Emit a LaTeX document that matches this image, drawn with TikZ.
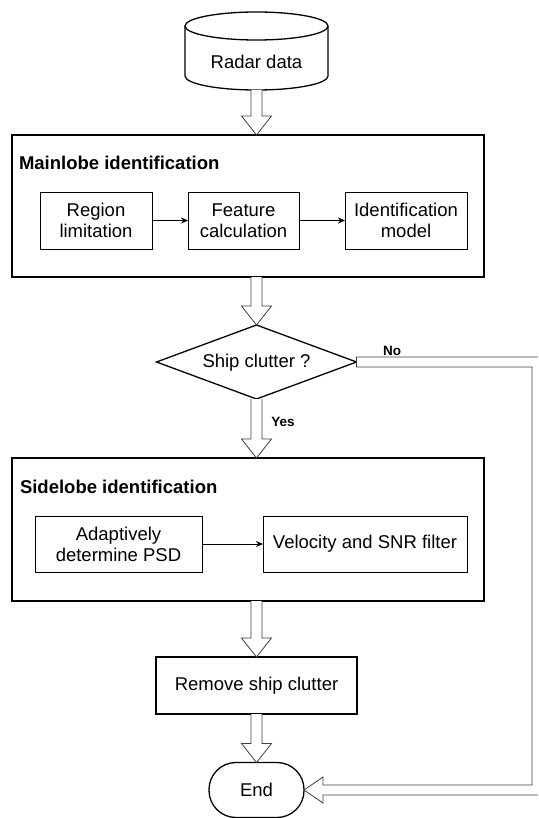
\documentclass[tikz,border=0pt]{standalone}
\usepackage{fontspec}
\setmainfont{Liberation Sans}
\usetikzlibrary{shapes.geometric,arrows.meta,calc}
\tikzset{
  every node/.style={font=\fontsize{18.5}{21}\selectfont, inner sep=0pt, outer sep=0pt, align=center},
  bigbox/.style={draw, line width=1.6pt, minimum width=472pt, minimum height=142pt},
  smallbox/.style={draw, line width=0.8pt, minimum height=57pt},
  title/.style={anchor=west, font=\fontsize{18.5}{21}\selectfont\bfseries},
  lbl/.style={font=\fontsize{13.5}{16}\selectfont\bfseries},
  thin/.style={line width=0.8pt, -{Stealth[length=7pt,width=6pt]}},
  harrow/.style={draw=black!75, line width=0.8pt, fill=white, line join=miter},
  cylline/.style={line width=1.3pt},
}
\newcommand\hollowdown[2]{%
  \path[harrow] let \p1=(#1), \p2=(#2) in
    (\x2-5.5pt,\y1) -- (\x2-5.5pt,\y2+19pt) -- (\x2-15pt,\y2+19pt) -- (\x2,\y2)
    -- (\x2+15pt,\y2+19pt) -- (\x2+5.5pt,\y2+19pt) -- (\x2+5.5pt,\y1);}
\begin{document}
\begin{tikzpicture}[x=1pt,y=-1pt]
\useasboundingbox (0,0) rectangle (538,818);
\clip (0,0) rectangle (538,818);
\fill[white] (0,0) rectangle (538,818);

% Radar data cylinder
\node (radar) at (256.5,51) [minimum width=143pt, minimum height=78pt] {};
\draw[cylline] (185,26) -- (185,76) arc[start angle=180, end angle=0, x radius=71.5, y radius=14] -- (328,26);
\draw[cylline] (256.5,26) ellipse [x radius=71.5, y radius=14];
\node (radartext) at (256.5,62) {Radar data};

% Mainlobe identification
\node[bigbox] (main) at (248,206) {};
\node[title] (maint) at (19,163) {Mainlobe identification};
\node[smallbox, minimum width=112pt] (region) at (96,220.5) {Region\\limitation};
\node[smallbox, minimum width=111pt] (feature) at (243.5,220.5) {Feature\\calculation};
\node[smallbox, minimum width=122pt] (ident) at (406,220.5) {Identification\\model};
\draw[thin] (region) -- (feature);
\draw[thin] (feature) -- (ident);

% Decision
\node[draw, diamond, aspect=2.7, line width=1.3pt, minimum width=200pt, minimum height=74pt] (dia) at (256.5,362) {};
\node (diat) at (256.5,363) {Ship clutter ?};
\node[lbl] (no) at (392,351) {No};
\node[lbl] (yes) at (283,422) {Yes};

% Sidelobe identification
\node[bigbox, minimum height=143pt] (side) at (248,529.5) {};
\node[title] (sidet) at (20,487) {Sidelobe identification};
\node[smallbox, minimum width=167pt, minimum height=56pt] (adapt) at (118.5,544) {Adaptively\\determine PSD};
\node[smallbox, minimum width=204pt, minimum height=56pt] (velo) at (365,544) {Velocity and SNR filter};
\draw[thin] (adapt) -- (velo);

% Remove ship clutter
\node[draw, line width=1.3pt, minimum width=201pt, minimum height=57pt] (remove) at (256.5,685.5) {Remove ship clutter};

% End
\node[draw, line width=1.3pt, rounded corners=27pt, minimum width=95pt, minimum height=55pt] (end) at (256.5,790) {End};

% hollow arrows
\hollowdown{radar.south}{main.north -| dia.north}
\hollowdown{main.south -| dia.north}{dia.north}
\hollowdown{dia.south}{side.north -| dia.south}
\hollowdown{side.south -| remove.north}{remove.north}
\hollowdown{remove.south}{end.north}

% No branch
\path[harrow] let \p1=(dia.east), \p2=(end.east) in
  (\x1,\y1+5pt) -- (543pt,\y1+5pt) -- (543pt,\y2-5pt) -- (\x2+19pt,\y2-5pt)
  -- (\x2+19pt,\y2-13pt) -- (\x2,\y2) -- (\x2+19pt,\y2+13pt) -- (\x2+19pt,\y2+5pt)
  -- (532pt,\y2+5pt) -- (532pt,\y1-5pt) -- (\x1,\y1-5pt) -- cycle;
\end{tikzpicture}
\end{document}
